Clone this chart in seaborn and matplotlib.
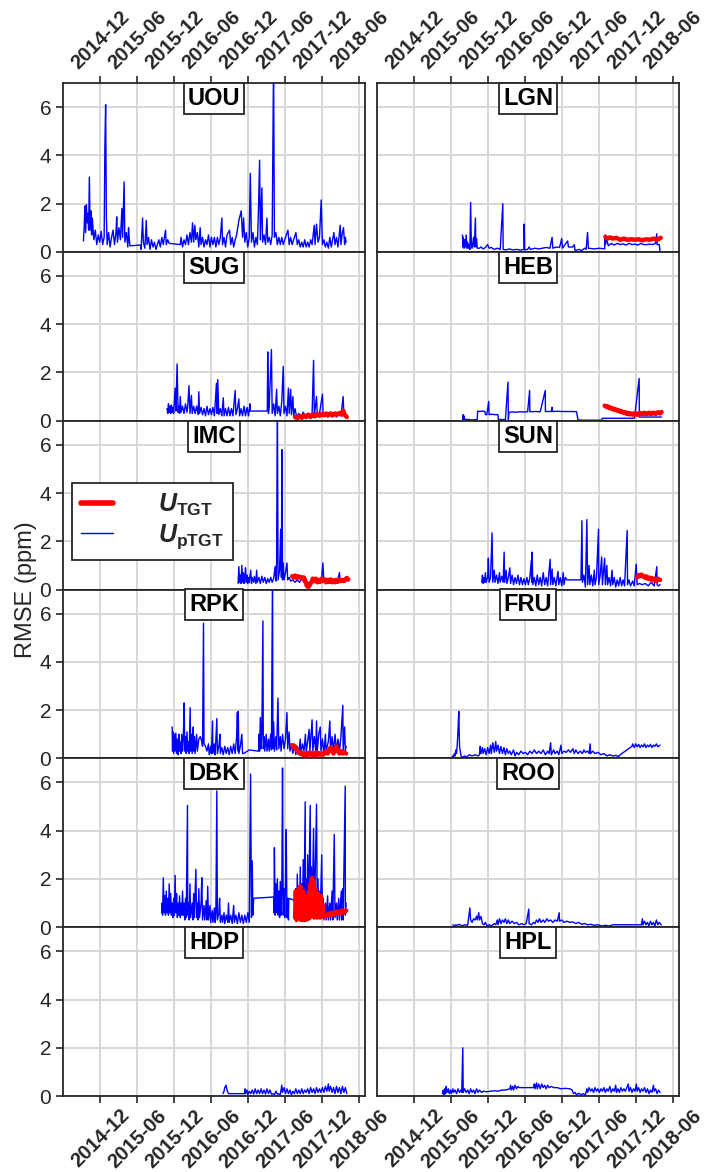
import matplotlib
matplotlib.use("Agg")
import matplotlib.pyplot as plt
from matplotlib.lines import Line2D
import seaborn as sns
import pandas as pd
import numpy as np

# ---------------- data (decimal year, RMSE ppm) ----------------
STATIONS = ["UOU", "LGN", "SUG", "HEB", "IMC", "SUN", "RPK", "FRU", "DBK", "ROO", "HDP", "HPL"]
TICK_LABELS = ["2014-12", "2015-06", "2015-12", "2016-06", "2016-12", "2017-06", "2017-12", "2018-06"]
X_RANGE = ["2014-06-01", "2018-07-01"]
LEGEND_LABELS = [r"$U_{\mathrm{TGT}}$", r"$U_{\mathrm{pTGT}}$"]

UOU_pTGT = [(2014.69,0.45),(2014.70,1.05),(2014.71,1.9),(2014.72,0.8),(2014.73,1.95),(2014.74,1.2),(2014.75,1.6),(2014.76,0.9),
 (2014.77,3.1),(2014.78,0.9),(2014.79,1.7),(2014.80,0.7),(2014.81,1.4),(2014.83,0.5),(2014.85,0.9),(2014.87,0.3),(2014.89,0.7),
 (2014.91,0.4),(2014.93,0.85),(2014.95,0.3),(2014.97,0.6),(2014.98,4.4),(2014.99,6.1),(2015.00,1.5),(2015.01,0.3),(2015.03,0.8),
 (2015.05,0.2),(2015.07,0.6),(2015.09,0.9),(2015.11,0.3),(2015.13,0.8),(2015.14,1.45),(2015.15,0.4),(2015.17,1.0),(2015.19,0.5),
 (2015.21,1.8),(2015.22,0.6),(2015.24,2.9),(2015.25,0.4),(2015.27,0.8),(2015.29,0.2),(2015.30,1.0),(2015.31,0.5),(2015.32,0.25),
 (2015.46,0.28),(2015.47,0.1),(2015.49,1.4),(2015.50,0.4),(2015.52,0.15),(2015.54,1.3),(2015.55,0.3),(2015.57,0.6),(2015.59,0.1),
 (2015.61,0.5),(2015.63,0.2),(2015.65,0.4),(2015.67,0.1),(2015.69,0.3),(2015.71,0.5),(2015.73,0.2),(2015.75,0.6),(2015.77,0.3),
 (2015.80,0.9),(2015.81,0.3),(2015.83,0.5),(2015.85,0.35),(2016.00,0.3),(2016.01,0.6),(2016.03,0.2),(2016.05,0.5),(2016.07,0.3),
 (2016.09,0.7),(2016.11,0.3),(2016.13,0.8),(2016.15,0.4),(2016.165,1.2),(2016.18,0.4),(2016.196,1.1),(2016.21,0.5),(2016.23,0.8),
 (2016.25,0.2),(2016.268,1.0),(2016.28,0.3),(2016.30,0.6),(2016.32,0.2),(2016.34,0.5),(2016.36,0.3),(2016.38,0.7),(2016.40,0.2),
 (2016.42,0.6),(2016.44,0.3),(2016.46,0.6),(2016.48,0.2),(2016.50,0.6),(2016.52,0.3),(2016.54,0.6),(2016.561,1.4),(2016.57,0.3),
 (2016.59,0.6),(2016.61,0.2),(2016.63,0.7),(2016.665,0.9),(2016.68,0.3),(2016.70,0.6),(2016.72,0.2),(2016.74,0.5),(2016.76,0.7),
 (2016.79,1.3),(2016.822,1.7),(2016.84,0.6),(2016.854,1.4),(2016.87,0.4),(2016.89,0.8),(2016.91,0.2),(2016.93,0.6),(2016.944,3.25),
 (2016.96,0.4),(2016.98,0.8),(2017.00,0.2),(2017.02,0.6),(2017.04,0.3),(2017.056,1.9),(2017.07,3.8),(2017.08,0.5),(2017.101,2.65),
 (2017.11,0.4),(2017.13,0.7),(2017.15,0.3),(2017.169,1.4),(2017.18,0.4),(2017.20,0.6),(2017.22,0.3),(2017.24,0.7),(2017.259,8.0),
 (2017.27,0.6),(2017.29,0.8),(2017.31,0.3),(2017.33,0.6),(2017.35,0.3),(2017.37,0.6),(2017.39,0.3),(2017.41,0.5),(2017.453,0.9),
 (2017.47,0.3),(2017.49,0.6),(2017.51,0.3),(2017.53,0.5),(2017.561,0.8),(2017.58,0.3),(2017.60,0.5),(2017.62,0.2),(2017.64,0.4),
 (2017.66,0.2),(2017.68,0.5),(2017.70,0.2),(2017.72,0.4),(2017.74,0.2),(2017.76,0.5),(2017.78,0.3),(2017.809,1.1),(2017.82,0.3),
 (2017.84,1.15),(2017.86,0.4),(2017.88,0.6),(2017.903,2.15),(2017.92,0.3),(2017.94,0.5),(2017.96,0.2),(2017.98,0.4),(2018.00,0.15),
 (2018.02,0.6),(2018.04,0.2),(2018.075,0.8),(2018.09,0.3),(2018.11,0.6),(2018.13,0.2),(2018.16,1.1),(2018.17,0.3),(2018.19,0.8),
 (2018.205,1.0),(2018.22,0.3),(2018.23,0.6),(2018.24,0.4)]
UOU_TGT = []

LGN_pTGT = [(2015.57,0.7),(2015.575,0.2),(2015.58,0.6),(2015.59,0.15),(2015.60,0.5),(2015.61,0.2),(2015.62,0.7),(2015.63,0.15),
 (2015.64,0.4),(2015.65,0.15),(2015.66,0.3),(2015.67,0.1),(2015.68,2.05),(2015.69,0.3),(2015.70,0.15),(2015.72,0.6),(2015.73,0.2),
 (2015.745,1.4),(2015.75,0.2),(2015.76,0.55),(2015.77,0.15),(2015.80,0.15),(2015.82,0.2),(2015.85,0.12),(2015.88,0.18),(2015.91,0.3),
 (2015.93,0.15),(2015.96,0.18),(2016.00,0.1),(2016.04,0.15),(2016.08,0.1),(2016.115,2.0),(2016.12,0.1),(2016.16,0.08),(2016.20,0.12),
 (2016.25,0.08),(2016.30,0.1),(2016.35,0.07),(2016.40,0.1),(2016.403,1.15),(2016.41,0.08),(2016.45,0.1),(2016.47,0.2),(2016.49,0.1),
 (2016.55,0.15),(2016.60,0.12),(2016.65,0.15),(2016.70,0.18),(2016.75,0.15),(2016.78,0.6),(2016.79,0.15),(2016.84,0.2),(2016.88,0.18),
 (2016.91,0.55),(2016.92,0.15),(2016.99,0.45),(2017.00,0.2),(2017.06,0.2),(2017.08,0.3),(2017.09,0.05),(2017.14,0.1),(2017.18,0.05),
 (2017.22,0.15),(2017.24,0.1),(2017.259,0.8),(2017.27,0.15),(2017.35,0.12),(2017.42,0.15),(2017.49,0.12),(2017.497,0.7),(2017.50,0.3),
 (2017.52,0.5),(2017.54,0.25),(2017.58,0.35),(2017.62,0.28),(2017.66,0.35),(2017.70,0.3),(2017.74,0.33),(2017.78,0.28),(2017.82,0.35),
 (2017.86,0.3),(2017.90,0.32),(2017.94,0.28),(2017.98,0.35),(2018.02,0.3),(2018.06,0.3),(2018.10,0.32),(2018.14,0.3),(2018.18,0.35),
 (2018.195,0.75),(2018.20,0.3),(2018.23,0.3),(2018.24,0.0)]
LGN_TGT = [(2017.50,0.62),(2017.53,0.55),(2017.56,0.6),(2017.60,0.55),(2017.65,0.58),(2017.70,0.5),(2017.75,0.55),(2017.80,0.5),
 (2017.85,0.52),(2017.90,0.5),(2017.95,0.52),(2018.00,0.48),(2018.05,0.52),(2018.10,0.5),(2018.15,0.55),(2018.20,0.5),(2018.25,0.58)]

SUG_pTGT = [(2015.82,0.5),(2015.83,0.3),(2015.84,0.7),(2015.85,0.35),(2015.86,0.6),(2015.87,0.3),(2015.88,0.65),(2015.89,0.35),
 (2015.90,0.55),(2015.91,0.3),(2015.93,1.35),(2015.94,0.4),(2015.957,2.35),(2015.97,0.35),(2015.98,0.6),(2015.99,0.3),(2016.00,1.0),
 (2016.01,0.35),(2016.03,0.6),(2016.05,0.3),(2016.07,0.7),(2016.09,0.35),(2016.10,0.6),(2016.117,1.45),(2016.13,0.3),(2016.15,1.05),
 (2016.16,0.3),(2016.18,0.6),(2016.20,0.3),(2016.22,0.6),(2016.24,0.25),(2016.25,1.2),(2016.26,0.3),(2016.28,0.55),(2016.30,0.25),
 (2016.32,0.5),(2016.34,0.2),(2016.36,0.6),(2016.38,0.25),(2016.40,0.5),(2016.42,0.25),(2016.44,0.55),(2016.46,0.2),(2016.488,1.55),
 (2016.495,0.3),(2016.505,1.7),(2016.52,0.25),(2016.54,0.5),(2016.56,0.2),(2016.58,0.95),(2016.59,0.2),(2016.61,0.5),(2016.63,0.2),
 (2016.65,0.55),(2016.67,0.2),(2016.69,0.5),(2016.71,0.2),(2016.74,1.25),(2016.75,0.25),(2016.77,0.5),(2016.79,0.9),(2016.80,0.2),
 (2016.82,0.5),(2016.84,0.2),(2016.86,0.6),(2016.88,0.2),(2016.90,0.55),(2016.92,0.2),(2016.94,0.7),(2016.945,0.4),(2017.174,0.4),
 (2017.18,2.85),(2017.19,0.3),(2017.20,0.6),(2017.23,2.95),(2017.24,0.3),(2017.26,0.7),(2017.28,0.2),(2017.30,1.3),(2017.31,0.3),
 (2017.33,0.6),(2017.35,0.2),(2017.37,0.8),(2017.39,2.25),(2017.40,0.3),(2017.42,0.6),(2017.44,0.2),(2017.46,1.35),(2017.47,0.3),
 (2017.49,1.3),(2017.50,0.25),(2017.52,1.0),(2017.53,0.2),(2017.55,0.5),(2017.57,0.15),(2017.60,0.3),(2017.63,0.15),(2017.66,0.35),
 (2017.69,0.15),(2017.72,0.3),(2017.75,0.12),(2017.78,0.3),(2017.80,2.5),(2017.81,0.2),(2017.84,1.0),(2017.85,0.2),(2017.88,0.3),
 (2017.92,1.1),(2017.93,0.2),(2017.96,0.3),(2017.99,0.15),(2018.02,0.3),(2018.05,0.15),(2018.08,0.3),(2018.11,0.15),(2018.14,0.3),
 (2018.17,0.2),(2018.20,1.0),(2018.21,0.2),(2018.23,0.3),(2018.25,0.15)]
SUG_TGT = [(2017.55,0.15),(2017.58,0.1),(2017.61,0.2),(2017.64,0.12),(2017.67,0.22),(2017.70,0.15),(2017.73,0.25),(2017.76,0.15),
 (2017.79,0.25),(2017.82,0.18),(2017.85,0.28),(2017.88,0.2),(2017.91,0.28),(2017.94,0.22),(2017.97,0.3),(2018.00,0.22),(2018.03,0.3),
 (2018.06,0.22),(2018.09,0.3),(2018.12,0.25),(2018.15,0.32),(2018.18,0.25),(2018.20,0.42),(2018.22,0.25),(2018.25,0.15)]

HEB_pTGT = [(2015.57,0.05),(2015.58,0.25),(2015.585,0.05),(2015.59,0.2),(2015.60,0.05),(2015.65,0.05),(2015.70,0.03),(2015.77,0.05),
 (2015.775,0.4),(2015.80,0.38),(2015.84,0.4),(2015.875,0.38),(2015.88,0.25),(2015.90,0.25),(2015.925,0.8),(2015.93,0.25),(2015.97,0.27),
 (2016.00,0.25),(2016.05,0.25),(2016.055,0.05),(2016.10,0.05),(2016.15,0.04),(2016.185,1.6),(2016.19,0.05),(2016.20,0.35),(2016.25,0.36),
 (2016.30,0.35),(2016.35,0.37),(2016.40,0.36),(2016.45,0.37),(2016.477,1.25),(2016.48,0.37),(2016.55,0.38),(2016.62,0.37),(2016.688,1.25),
 (2016.69,0.38),(2016.77,0.38),(2016.78,0.55),(2016.785,0.38),(2016.85,0.39),(2016.92,0.38),(2017.00,0.38),(2017.06,0.38),(2017.11,0.37),
 (2017.12,0.2),(2017.13,0.03),(2017.20,0.02),(2017.30,0.02),(2017.40,0.02),(2017.45,0.02),(2017.46,0.1),(2017.55,0.1),(2017.65,0.1),
 (2017.75,0.1),(2017.85,0.1),(2017.89,0.1),(2017.895,0.15),(2017.957,1.75),(2017.96,0.15),(2018.05,0.15),(2018.15,0.15),(2018.26,0.15)]
HEB_TGT = [(2017.49,0.62),(2017.51,0.58),(2017.53,0.6),(2017.55,0.52),(2017.57,0.55),(2017.59,0.48),(2017.61,0.5),(2017.63,0.44),
 (2017.65,0.46),(2017.67,0.4),(2017.69,0.42),(2017.71,0.36),(2017.73,0.38),(2017.75,0.32),(2017.77,0.35),(2017.79,0.28),(2017.81,0.32),
 (2017.83,0.26),(2017.85,0.3),(2017.87,0.25),(2017.89,0.3),(2017.91,0.25),(2017.93,0.3),(2017.95,0.24),(2017.97,0.32),(2018.00,0.26),
 (2018.03,0.33),(2018.06,0.27),(2018.09,0.33),(2018.12,0.27),(2018.15,0.33),(2018.18,0.28),(2018.21,0.35),(2018.24,0.3),(2018.26,0.36)]

IMC_pTGT = [(2016.78,0.25),(2016.79,0.95),(2016.80,0.3),(2016.81,0.6),(2016.82,0.25),(2016.83,1.0),(2016.84,0.3),(2016.85,0.7),
 (2016.86,0.25),(2016.87,0.55),(2016.88,0.9),(2016.89,0.3),(2016.90,0.6),(2016.91,0.25),(2016.92,0.5),(2016.93,0.3),(2016.95,0.8),
 (2016.96,0.25),(2016.97,0.5),(2016.99,0.3),(2017.00,0.55),(2017.02,0.25),(2017.03,0.8),(2017.04,0.3),(2017.06,0.5),(2017.08,0.25),
 (2017.10,0.55),(2017.12,0.3),(2017.14,0.5),(2017.16,0.25),(2017.18,0.45),(2017.20,0.3),(2017.22,0.5),(2017.24,0.3),(2017.26,0.45),
 (2017.28,0.95),(2017.29,0.35),(2017.30,1.1),(2017.31,8.0),(2017.32,0.4),(2017.34,0.8),(2017.355,2.5),(2017.365,0.5),(2017.372,5.8),
 (2017.38,0.4),(2017.39,1.1),(2017.40,0.4),(2017.42,0.7),(2017.44,1.1),(2017.45,0.4),(2017.47,0.5),(2017.49,0.35),(2017.52,0.4),
 (2017.55,0.3),(2017.58,0.4),(2017.61,0.3),(2017.64,0.45),(2017.67,0.3),(2017.70,0.2),(2017.73,0.3),(2017.76,0.25),(2017.79,0.4),
 (2017.82,0.3),(2017.85,0.4),(2017.88,0.3),(2017.91,0.5),(2017.926,1.1),(2017.94,0.3),(2017.97,0.4),(2018.00,0.25),(2018.03,0.4),
 (2018.06,0.3),(2018.09,0.45),(2018.12,0.3),(2018.15,0.7),(2018.16,0.3),(2018.19,0.4),(2018.22,0.3),(2018.25,0.4),(2018.27,0.35)]
IMC_TGT = [(2017.51,0.55),(2017.53,0.5),(2017.55,0.58),(2017.57,0.48),(2017.59,0.55),(2017.61,0.5),(2017.63,0.52),(2017.65,0.45),
 (2017.67,0.5),(2017.69,0.35),(2017.71,0.15),(2017.73,0.1),(2017.75,0.2),(2017.77,0.3),(2017.79,0.45),(2017.81,0.35),(2017.83,0.45),
 (2017.85,0.3),(2017.87,0.4),(2017.89,0.32),(2017.91,0.45),(2017.93,0.35),(2017.95,0.42),(2017.97,0.3),(2017.99,0.4),(2018.01,0.32),
 (2018.03,0.42),(2018.05,0.3),(2018.07,0.38),(2018.09,0.3),(2018.11,0.4),(2018.13,0.32),(2018.15,0.42),(2018.17,0.35),(2018.19,0.4),
 (2018.21,0.35),(2018.23,0.42),(2018.25,0.48),(2018.27,0.42)]

SUN_pTGT = [(2015.83,0.3),(2015.84,0.6),(2015.85,0.25),(2015.86,0.5),(2015.87,0.3),(2015.88,0.7),(2015.89,0.3),(2015.91,0.5),
 (2015.92,1.3),(2015.93,0.3),(2015.95,0.5),(2015.97,2.35),(2015.98,0.3),(2016.00,0.8),(2016.01,0.3),(2016.03,0.6),(2016.05,0.25),
 (2016.07,0.7),(2016.08,0.3),(2016.10,0.55),(2016.12,0.3),(2016.133,1.55),(2016.14,0.3),(2016.16,0.8),(2016.17,0.25),(2016.19,0.5),
 (2016.21,0.9),(2016.22,0.25),(2016.24,0.6),(2016.26,0.2),(2016.28,0.5),(2016.30,0.25),(2016.32,0.6),(2016.34,0.2),(2016.36,0.5),
 (2016.38,0.2),(2016.40,0.45),(2016.42,0.2),(2016.44,0.5),(2016.46,0.2),(2016.48,0.5),(2016.50,1.2),(2016.505,0.3),(2016.511,1.55),
 (2016.52,0.2),(2016.54,0.5),(2016.56,0.15),(2016.58,0.6),(2016.60,0.2),(2016.62,0.5),(2016.64,0.15),(2016.66,0.7),(2016.68,0.2),
 (2016.70,0.5),(2016.72,0.15),(2016.754,1.25),(2016.76,0.2),(2016.78,0.85),(2016.79,0.2),(2016.81,0.5),(2016.83,0.15),(2016.86,0.75),
 (2016.87,0.2),(2016.89,0.5),(2016.91,0.15),(2016.93,0.7),(2016.94,0.2),(2016.96,0.5),(2016.98,0.4),(2017.17,0.4),(2017.183,2.85),
 (2017.19,0.3),(2017.21,0.6),(2017.23,0.1),(2017.25,2.9),(2017.26,0.2),(2017.28,1.0),(2017.29,0.2),(2017.31,0.6),(2017.33,0.15),
 (2017.35,0.8),(2017.36,0.2),(2017.38,0.5),(2017.407,2.5),(2017.41,0.2),(2017.43,0.6),(2017.45,1.35),(2017.46,0.2),(2017.49,1.3),
 (2017.50,0.2),(2017.52,1.0),(2017.53,0.2),(2017.55,0.5),(2017.57,0.15),(2017.59,0.8),(2017.60,0.2),(2017.62,0.5),(2017.64,0.1),
 (2017.66,0.4),(2017.68,0.15),(2017.70,0.5),(2017.72,0.15),(2017.74,0.4),(2017.76,0.15),(2017.795,2.45),(2017.80,0.2),(2017.82,0.4),
 (2017.84,0.15),(2017.87,0.35),(2017.89,0.15),(2017.917,1.05),(2017.93,0.2),(2017.96,0.25),(2018.00,0.2),(2018.04,0.25),(2018.08,0.15),
 (2018.12,0.3),(2018.16,0.15),(2018.196,0.95),(2018.20,0.2),(2018.22,0.15),(2018.24,0.2)]
SUN_TGT = [(2017.93,0.5),(2017.95,0.6),(2017.97,0.55),(2017.99,0.62),(2018.01,0.55),(2018.03,0.5),(2018.05,0.55),(2018.07,0.45),
 (2018.09,0.5),(2018.11,0.42),(2018.13,0.48),(2018.15,0.38),(2018.17,0.45),(2018.19,0.35),(2018.21,0.45),(2018.24,0.4)]

RPK_pTGT = [(2015.89,1.3),(2015.895,0.3),(2015.90,1.1),(2015.91,0.2),(2015.92,1.0),(2015.93,0.3),(2015.94,1.05),(2015.95,0.2),
 (2015.96,0.8),(2015.97,0.15),(2015.98,1.0),(2015.99,0.3),(2016.00,0.7),(2016.01,0.2),(2016.02,1.0),(2016.03,0.3),(2016.04,0.8),
 (2016.052,2.3),(2016.06,0.3),(2016.07,0.9),(2016.08,0.2),(2016.09,1.1),(2016.10,0.3),(2016.11,0.7),(2016.12,0.2),(2016.133,2.1),
 (2016.14,0.3),(2016.15,1.0),(2016.16,0.2),(2016.175,1.3),(2016.18,0.3),(2016.19,0.9),(2016.20,0.2),(2016.22,1.0),(2016.23,0.3),
 (2016.25,0.8),(2016.27,0.9),(2016.29,0.7),(2016.30,0.5),(2016.313,5.6),(2016.32,0.6),(2016.34,0.5),(2016.36,0.3),(2016.38,0.6),
 (2016.39,0.15),(2016.41,0.5),(2016.42,0.2),(2016.435,1.55),(2016.44,0.2),(2016.46,0.6),(2016.47,0.15),(2016.493,1.65),(2016.50,0.2),
 (2016.52,0.5),(2016.535,1.0),(2016.54,0.2),(2016.56,0.45),(2016.58,0.15),(2016.60,0.5),(2016.62,0.2),(2016.64,0.45),(2016.66,0.15),
 (2016.68,0.5),(2016.70,0.2),(2016.72,0.6),(2016.74,0.2),(2016.76,0.9),(2016.77,1.9),(2016.78,0.3),(2016.782,1.95),(2016.79,0.2),
 (2016.81,0.5),(2016.83,1.0),(2016.84,0.2),(2016.854,0.2),(2016.93,0.35),(2017.056,0.3),(2017.06,1.0),(2017.07,0.3),(2017.08,1.7),
 (2017.09,0.4),(2017.10,1.0),(2017.115,5.7),(2017.12,0.4),(2017.13,0.9),(2017.14,0.3),(2017.16,1.0),(2017.17,0.3),(2017.19,0.8),
 (2017.20,0.3),(2017.22,1.0),(2017.23,0.35),(2017.245,8.0),(2017.25,0.4),(2017.26,1.5),(2017.27,0.3),(2017.29,0.9),(2017.30,0.35),
 (2017.318,2.5),(2017.33,0.4),(2017.35,0.9),(2017.36,0.3),(2017.38,1.0),(2017.40,0.4),(2017.42,0.8),(2017.44,1.9),(2017.45,0.4),
 (2017.47,1.1),(2017.48,0.3),(2017.50,0.6),(2017.52,0.2),(2017.54,0.6),(2017.56,0.15),(2017.58,0.5),(2017.60,0.2),(2017.62,0.8),
 (2017.63,0.2),(2017.65,0.6),(2017.67,0.3),(2017.69,1.0),(2017.70,0.25),(2017.72,0.7),(2017.74,1.2),(2017.75,0.3),(2017.78,1.6),
 (2017.79,0.3),(2017.81,0.9),(2017.83,0.3),(2017.84,1.55),(2017.85,0.3),(2017.87,1.0),(2017.89,1.3),(2017.90,0.3),(2017.92,0.8),
 (2017.94,0.2),(2017.96,1.0),(2017.97,0.3),(2018.00,0.7),(2018.02,1.55),(2018.03,0.3),(2018.05,0.9),(2018.07,0.3),(2018.09,1.0),
 (2018.11,0.3),(2018.13,0.8),(2018.15,0.3),(2018.17,0.9),(2018.196,2.2),(2018.20,0.3),(2018.22,1.3),(2018.23,0.3),(2018.24,0.5)]
RPK_TGT = [(2017.51,0.55),(2017.53,0.45),(2017.55,0.5),(2017.57,0.35),(2017.59,0.3),(2017.61,0.2),(2017.63,0.25),(2017.65,0.15),
 (2017.67,0.2),(2017.69,0.12),(2017.71,0.22),(2017.73,0.15),(2017.75,0.25),(2017.77,0.15),(2017.79,0.2),(2017.81,0.12),(2017.83,0.25),
 (2017.85,0.15),(2017.87,0.22),(2017.89,0.15),(2017.91,0.2),(2017.93,0.15),(2017.95,0.25),(2017.97,0.3),(2017.99,0.2),(2018.01,0.35),
 (2018.03,0.45),(2018.05,0.3),(2018.07,0.2),(2018.09,0.4),(2018.11,0.5),(2018.13,0.3),(2018.15,0.2),(2018.17,0.3),(2018.19,0.2),
 (2018.21,0.25),(2018.24,0.2)]

FRU_pTGT = [(2015.43,0.05),(2015.44,0.1),(2015.45,0.05),(2015.46,0.2),(2015.47,0.1),(2015.48,0.35),(2015.49,0.2),(2015.50,0.6),
 (2015.51,1.2),(2015.52,1.95),(2015.53,0.5),(2015.54,0.3),(2015.55,0.1),(2015.57,0.05),(2015.60,0.1),(2015.63,0.05),(2015.66,0.15),
 (2015.70,0.1),(2015.74,0.15),(2015.78,0.1),(2015.80,0.15),(2015.81,0.5),(2015.82,0.2),(2015.84,0.45),(2015.85,0.2),(2015.87,0.4),
 (2015.89,0.15),(2015.91,0.45),(2015.93,0.2),(2015.95,0.55),(2015.96,0.2),(2015.98,0.65),(2016.00,0.25),(2016.02,0.7),(2016.03,0.3),
 (2016.05,0.55),(2016.07,0.2),(2016.09,0.5),(2016.11,0.2),(2016.13,0.45),(2016.15,0.15),(2016.17,0.4),(2016.19,0.2),(2016.21,0.3),
 (2016.23,0.15),(2016.26,0.35),(2016.28,0.1),(2016.30,0.25),(2016.33,0.15),(2016.36,0.3),(2016.39,0.2),(2016.42,0.25),(2016.45,0.15),
 (2016.48,0.3),(2016.51,0.2),(2016.54,0.35),(2016.57,0.2),(2016.60,0.3),(2016.63,0.2),(2016.66,0.35),(2016.69,0.15),(2016.72,0.3),
 (2016.74,0.2),(2016.76,0.65),(2016.77,0.15),(2016.80,0.35),(2016.82,0.2),(2016.85,0.3),(2016.87,0.15),(2016.90,0.55),(2016.91,0.2),
 (2016.94,0.3),(2016.97,0.25),(2017.00,0.35),(2017.03,0.25),(2017.06,0.4),(2017.08,0.2),(2017.10,0.35),(2017.13,0.2),(2017.16,0.3),
 (2017.19,0.2),(2017.21,0.35),(2017.23,0.25),(2017.26,0.3),(2017.28,0.2),(2017.295,0.6),(2017.30,0.2),(2017.33,0.3),(2017.36,0.2),
 (2017.40,0.25),(2017.44,0.15),(2017.48,0.2),(2017.52,0.1),(2017.56,0.15),(2017.60,0.1),(2017.64,0.12),(2017.68,0.08),(2017.70,0.15),
 (2017.86,0.5),(2017.87,0.6),(2017.89,0.45),(2017.91,0.6),(2017.93,0.48),(2017.95,0.58),(2017.97,0.45),(2017.99,0.55),(2018.01,0.48),
 (2018.03,0.6),(2018.05,0.45),(2018.07,0.55),(2018.09,0.48),(2018.11,0.58),(2018.13,0.45),(2018.15,0.55),(2018.17,0.5),(2018.19,0.6),
 (2018.21,0.48),(2018.24,0.55)]
FRU_TGT = []

DBK_pTGT = [(2015.75,0.6),(2015.755,1.0),(2015.76,0.5),(2015.77,2.05),(2015.78,0.6),(2015.79,1.3),(2015.80,0.5),(2015.81,1.5),
 (2015.82,0.6),(2015.83,1.2),(2015.84,0.5),(2015.85,1.8),(2015.86,0.6),(2015.87,1.4),(2015.88,0.5),(2015.89,1.0),(2015.90,0.4),
 (2015.91,1.2),(2015.92,0.5),(2015.93,2.15),(2015.94,0.6),(2015.95,1.4),(2015.96,0.4),(2015.97,1.0),(2015.98,0.5),(2015.99,1.3),
 (2016.00,0.4),(2016.01,1.0),(2016.02,0.5),(2016.03,1.5),(2016.04,0.5),(2016.05,1.0),(2016.06,0.3),(2016.07,1.2),(2016.08,0.4),
 (2016.097,5.05),(2016.10,0.5),(2016.11,1.0),(2016.12,0.3),(2016.13,1.8),(2016.14,0.4),(2016.16,1.0),(2016.17,0.3),(2016.18,1.4),
 (2016.19,0.4),(2016.21,2.4),(2016.22,0.4),(2016.23,1.0),(2016.24,0.3),(2016.25,1.6),(2016.26,0.4),(2016.28,1.0),(2016.29,2.05),
 (2016.30,0.3),(2016.32,0.9),(2016.33,0.3),(2016.35,1.1),(2016.36,0.3),(2016.37,1.7),(2016.38,0.3),(2016.40,0.9),(2016.41,0.2),
 (2016.43,0.7),(2016.44,0.2),(2016.46,0.8),(2016.47,0.2),(2016.48,0.6),(2016.493,5.65),(2016.50,0.3),(2016.52,0.6),(2016.53,1.2),
 (2016.54,0.2),(2016.56,0.5),(2016.57,0.2),(2016.59,0.6),(2016.60,0.15),(2016.62,0.5),(2016.64,0.2),(2016.65,1.0),(2016.66,0.2),
 (2016.68,0.5),(2016.70,0.15),(2016.72,0.9),(2016.73,0.2),(2016.75,0.5),(2016.77,0.15),(2016.79,0.6),(2016.81,0.2),(2016.83,0.5),
 (2016.85,0.15),(2016.87,0.5),(2016.89,0.2),(2016.91,0.6),(2016.93,0.2),(2016.948,6.35),(2016.96,0.4),(2016.97,2.75),(2016.98,0.5),
 (2016.99,1.2),(2017.26,1.25),(2017.265,0.6),(2017.27,3.3),(2017.28,0.5),(2017.29,1.8),(2017.30,0.6),(2017.31,2.0),(2017.32,0.5),
 (2017.33,1.5),(2017.34,0.4),(2017.35,1.9),(2017.36,0.5),(2017.37,1.4),(2017.38,6.6),(2017.39,0.5),(2017.40,1.6),(2017.41,0.4),
 (2017.42,1.8),(2017.43,4.05),(2017.44,0.4),(2017.45,1.2),(2017.46,0.3),(2017.465,1.2),(2017.55,1.1),(2017.555,0.5),(2017.56,1.6),
 (2017.57,0.4),(2017.58,2.2),(2017.59,0.5),(2017.60,1.5),(2017.61,0.3),(2017.62,2.5),(2017.63,0.5),(2017.64,1.8),(2017.65,0.4),
 (2017.66,2.8),(2017.67,0.6),(2017.687,5.2),(2017.69,0.5),(2017.70,2.0),(2017.71,0.4),(2017.72,3.0),(2017.73,0.5),(2017.755,5.05),
 (2017.76,0.5),(2017.77,2.5),(2017.78,0.4),(2017.80,4.1),(2017.81,0.5),(2017.82,1.8),(2017.84,5.1),(2017.85,0.5),(2017.86,2.0),
 (2017.87,0.4),(2017.88,1.5),(2017.89,0.4),(2017.91,3.0),(2017.92,0.4),(2017.93,1.2),(2017.94,0.3),(2017.96,1.0),(2017.97,0.3),
 (2017.99,1.3),(2018.00,0.3),(2018.02,1.0),(2018.03,0.3),(2018.05,1.5),(2018.06,0.3),(2018.08,3.85),(2018.09,0.4),(2018.11,1.0),
 (2018.12,0.3),(2018.14,1.2),(2018.15,0.3),(2018.175,1.5),(2018.18,0.3),(2018.195,1.6),(2018.20,0.3),(2018.228,5.85),(2018.23,0.5),
 (2018.24,1.0)]
DBK_TGT = [(2017.55,0.4),(2017.56,1.5),(2017.57,0.3),(2017.58,1.4),(2017.59,0.5),(2017.60,1.6),(2017.61,0.4),(2017.62,1.7),
 (2017.63,0.3),(2017.64,1.2),(2017.65,0.4),(2017.66,1.5),(2017.67,0.3),(2017.68,0.8),(2017.69,0.3),(2017.70,1.3),(2017.71,0.4),
 (2017.72,1.0),(2017.73,0.35),(2017.74,1.5),(2017.75,0.4),(2017.76,1.8),(2017.77,0.5),(2017.78,2.05),(2017.79,0.6),(2017.80,1.9),
 (2017.81,0.4),(2017.82,1.6),(2017.83,0.45),(2017.84,1.2),(2017.85,0.4),(2017.86,1.4),(2017.87,0.45),(2017.88,1.0),(2017.89,0.4),
 (2017.90,1.3),(2017.91,0.45),(2017.92,0.9),(2017.93,0.45),(2017.95,0.5),(2017.97,0.45),(2017.99,0.55),(2018.01,0.5),(2018.03,0.6),
 (2018.05,0.5),(2018.07,0.6),(2018.09,0.55),(2018.11,0.65),(2018.13,0.55),(2018.15,0.65),(2018.17,0.6),(2018.19,0.7),(2018.21,0.6),
 (2018.24,0.7)]

ROO_pTGT = [(2015.44,0.1),(2015.46,0.05),(2015.48,0.1),(2015.50,0.08),(2015.53,0.12),(2015.56,0.05),(2015.60,0.1),(2015.64,0.08),
 (2015.67,0.8),(2015.68,0.3),(2015.70,0.2),(2015.72,0.35),(2015.74,0.3),(2015.76,0.45),(2015.77,0.3),(2015.79,0.6),(2015.80,0.3),
 (2015.82,0.45),(2015.84,0.15),(2015.86,0.1),(2015.88,0.2),(2015.90,0.05),(2015.93,0.1),(2015.96,0.05),(2016.00,0.15),(2016.02,0.1),
 (2016.04,0.3),(2016.05,0.1),(2016.07,0.35),(2016.09,0.15),(2016.11,0.3),(2016.13,0.2),(2016.15,0.35),(2016.17,0.15),(2016.19,0.3),
 (2016.21,0.15),(2016.24,0.25),(2016.27,0.15),(2016.30,0.2),(2016.33,0.1),(2016.37,0.15),(2016.40,0.1),(2016.43,0.15),(2016.466,0.75),
 (2016.47,0.15),(2016.50,0.1),(2016.53,0.2),(2016.55,0.15),(2016.57,0.3),(2016.59,0.2),(2016.61,0.35),(2016.63,0.2),(2016.66,0.3),
 (2016.68,0.2),(2016.71,0.35),(2016.73,0.25),(2016.76,0.3),(2016.79,0.2),(2016.82,0.3),(2016.85,0.25),(2016.876,0.6),(2016.88,0.25),
 (2016.91,0.3),(2016.94,0.2),(2016.98,0.25),(2017.02,0.2),(2017.06,0.22),(2017.10,0.15),(2017.14,0.2),(2017.18,0.12),(2017.22,0.15),
 (2017.26,0.1),(2017.30,0.12),(2017.35,0.08),(2017.40,0.1),(2017.45,0.05),(2017.50,0.08),(2017.55,0.05),(2017.60,0.1),(2017.99,0.1),
 (2018.00,0.35),(2018.01,0.1),(2018.03,0.25),(2018.05,0.1),(2018.07,0.2),(2018.09,0.05),(2018.11,0.25),(2018.13,0.1),(2018.15,0.2),
 (2018.17,0.05),(2018.19,0.3),(2018.21,0.1),(2018.23,0.2),(2018.255,0.1)]
ROO_TGT = []

HDP_pTGT = [(2016.575,0.1),(2016.59,0.2),(2016.60,0.35),(2016.616,0.45),(2016.63,0.25),(2016.65,0.1),(2016.67,0.1),(2016.87,0.1),
 (2016.875,0.3),(2016.88,0.1),(2016.90,0.25),(2016.91,0.05),(2016.93,0.2),(2016.95,0.1),(2016.97,0.25),(2016.99,0.08),(2017.01,0.3),
 (2017.03,0.1),(2017.05,0.25),(2017.07,0.1),(2017.09,0.3),(2017.11,0.1),(2017.13,0.25),(2017.15,0.08),(2017.17,0.3),(2017.19,0.1),
 (2017.21,0.25),(2017.23,0.08),(2017.25,0.1),(2017.27,0.05),(2017.29,0.2),(2017.31,0.08),(2017.33,0.1),(2017.35,0.05),(2017.37,0.45),
 (2017.38,0.15),(2017.40,0.35),(2017.42,0.1),(2017.44,0.3),(2017.46,0.1),(2017.48,0.25),(2017.50,0.05),(2017.52,0.2),(2017.54,0.1),
 (2017.56,0.3),(2017.58,0.1),(2017.60,0.25),(2017.62,0.1),(2017.64,0.3),(2017.66,0.1),(2017.68,0.25),(2017.70,0.15),(2017.72,0.3),
 (2017.74,0.1),(2017.76,0.35),(2017.78,0.15),(2017.80,0.3),(2017.82,0.1),(2017.84,0.35),(2017.86,0.15),(2017.88,0.3),(2017.90,0.15),
 (2017.92,0.35),(2017.94,0.15),(2017.96,0.4),(2017.98,0.2),(2018.00,0.5),(2018.01,0.2),(2018.03,0.4),(2018.05,0.15),(2018.07,0.35),
 (2018.09,0.1),(2018.11,0.4),(2018.13,0.15),(2018.15,0.35),(2018.17,0.1),(2018.19,0.4),(2018.21,0.15),(2018.23,0.35),(2018.25,0.1)]
HDP_TGT = []

HPL_pTGT = [(2015.30,0.1),(2015.31,0.25),(2015.32,0.05),(2015.33,0.3),(2015.34,0.1),(2015.35,0.4),(2015.36,0.15),(2015.38,0.3),
 (2015.39,0.1),(2015.41,0.25),(2015.42,0.1),(2015.44,0.3),(2015.45,0.15),(2015.47,0.25),(2015.49,0.1),(2015.51,0.3),(2015.53,0.15),
 (2015.55,0.25),(2015.56,0.15),(2015.574,2.0),(2015.58,0.15),(2015.60,0.3),(2015.62,0.15),(2015.64,0.25),(2015.66,0.1),(2015.68,0.3),
 (2015.70,0.15),(2015.72,0.25),(2015.74,0.1),(2015.76,0.3),(2015.78,0.15),(2015.80,0.25),(2015.83,0.15),(2015.85,0.2),(2015.90,0.18),
 (2015.95,0.2),(2016.00,0.22),(2016.05,0.2),(2016.10,0.25),(2016.15,0.25),(2016.21,0.3),(2016.22,0.45),(2016.23,0.25),(2016.25,0.4),
 (2016.26,0.25),(2016.28,0.45),(2016.30,0.3),(2016.32,0.4),(2016.33,0.35),(2016.40,0.35),(2016.47,0.35),(2016.53,0.35),(2016.54,0.5),
 (2016.55,0.3),(2016.57,0.55),(2016.58,0.3),(2016.60,0.5),(2016.62,0.3),(2016.64,0.5),(2016.66,0.35),(2016.68,0.45),(2016.70,0.3),
 (2016.72,0.45),(2016.74,0.35),(2016.77,0.4),(2016.80,0.35),(2016.85,0.35),(2016.90,0.3),(2016.95,0.32),(2017.02,0.3),(2017.05,0.25),
 (2017.07,0.1),(2017.09,0.15),(2017.11,0.05),(2017.14,0.12),(2017.17,0.05),(2017.20,0.1),(2017.23,0.05),(2017.25,0.3),(2017.26,0.15),
 (2017.28,0.35),(2017.30,0.2),(2017.32,0.3),(2017.34,0.15),(2017.36,0.35),(2017.38,0.2),(2017.40,0.3),(2017.42,0.15),(2017.44,0.3),
 (2017.46,0.2),(2017.48,0.35),(2017.50,0.15),(2017.52,0.3),(2017.54,0.2),(2017.56,0.4),(2017.58,0.15),(2017.60,0.3),(2017.62,0.2),
 (2017.64,0.45),(2017.65,0.15),(2017.67,0.3),(2017.69,0.15),(2017.71,0.35),(2017.73,0.2),(2017.75,0.3),(2017.77,0.2),(2017.79,0.35),
 (2017.81,0.5),(2017.82,0.2),(2017.84,0.35),(2017.86,0.15),(2017.88,0.3),(2017.90,0.2),(2017.92,0.5),(2017.93,0.2),(2017.95,0.35),
 (2017.97,0.15),(2017.99,0.3),(2018.01,0.2),(2018.03,0.35),(2018.05,0.15),(2018.07,0.3),(2018.09,0.1),(2018.11,0.25),(2018.13,0.15),
 (2018.15,0.45),(2018.16,0.2),(2018.18,0.3),(2018.20,0.1),(2018.22,0.25),(2018.24,0.15)]
HPL_TGT = []

SERIES = {
    "UOU": (UOU_pTGT, UOU_TGT), "LGN": (LGN_pTGT, LGN_TGT),
    "SUG": (SUG_pTGT, SUG_TGT), "HEB": (HEB_pTGT, HEB_TGT),
    "IMC": (IMC_pTGT, IMC_TGT), "SUN": (SUN_pTGT, SUN_TGT),
    "RPK": (RPK_pTGT, RPK_TGT), "FRU": (FRU_pTGT, FRU_TGT),
    "DBK": (DBK_pTGT, DBK_TGT), "ROO": (ROO_pTGT, ROO_TGT),
    "HDP": (HDP_pTGT, HDP_TGT), "HPL": (HPL_pTGT, HPL_TGT),
}

# ---------------- style ----------------
sns.set_theme(style="white")
plt.rcParams["font.family"] = ["Liberation Sans", "DejaVu Sans"]
plt.rcParams["mathtext.fontset"] = "custom"
plt.rcParams["mathtext.it"] = "Liberation Sans:italic:bold"
plt.rcParams["mathtext.rm"] = "Liberation Sans:bold"
plt.rcParams["mathtext.bf"] = "Liberation Sans:bold"

BLUE = "#0000ff"
RED = "#ff0000"
EDGE = "#262626"


def to_dt(years):
    out = []
    for y in years:
        yr = int(np.floor(y))
        start = pd.Timestamp(year=yr, month=1, day=1)
        end = pd.Timestamp(year=yr + 1, month=1, day=1)
        out.append(start + (end - start) * (y - yr))
    return pd.to_datetime(out)


def frame(pairs):
    t = [p[0] for p in pairs]
    v = [p[1] for p in pairs]
    return pd.DataFrame({"date": to_dt(t), "rmse": v})


fig, axes = plt.subplots(6, 2, figsize=(7.05, 11.72), dpi=100)
fig.subplots_adjust(left=0.0894, right=0.9631, top=0.9292, bottom=0.0648, wspace=0.0397, hspace=0)

tick_dates = pd.to_datetime([lab + "-01" for lab in TICK_LABELS])
xlim = pd.to_datetime(X_RANGE)

for i, name in enumerate(STATIONS):
    r, c = divmod(i, 2)
    ax = axes[r, c]
    blue, red = SERIES[name]
    df_b = frame(blue)
    sns.lineplot(data=df_b, x="date", y="rmse", ax=ax, color=BLUE, lw=1.0,
                 estimator=None, sort=False, legend=False, zorder=3)
    if red:
        df_r = frame(red)
        sns.lineplot(data=df_r, x="date", y="rmse", ax=ax, color=RED, lw=3.2,
                     estimator=None, sort=False, legend=False, zorder=4)
    ax.set_xlim(xlim[0], xlim[1])
    ax.set_ylim(0, 7)
    ax.set_yticks([0, 2, 4, 6])
    ax.set_xticks(tick_dates)
    ax.set_xlabel("")
    ax.set_ylabel("")
    ax.grid(True, color="#d4d4d4", lw=1.3)
    ax.set_axisbelow(True)
    for sp in ax.spines.values():
        sp.set_color(EDGE)
        sp.set_linewidth(1.3)
    ax.tick_params(axis="both", direction="out", length=5, width=1.2, color=EDGE)

    # x ticks
    if r == 0:
        ax.tick_params(axis="x", top=True, bottom=False, labeltop=True, labelbottom=False, pad=2)
        ax.set_xticklabels(TICK_LABELS, rotation=45, fontsize=14.5, fontweight="bold")
    elif r == 5:
        ax.tick_params(axis="x", top=False, bottom=True, labeltop=False, labelbottom=True, pad=2)
        ax.set_xticklabels(TICK_LABELS, rotation=45, fontsize=14.5, fontweight="bold")
    else:
        ax.tick_params(axis="x", top=False, bottom=False, labeltop=False, labelbottom=False)

    # y ticks
    if c == 0:
        ax.tick_params(axis="y", left=True, labelleft=True, labelsize=15)
    else:
        ax.tick_params(axis="y", left=False, labelleft=False)

    ax.annotate(name, xy=(0.5, 1.0), xycoords="axes fraction", xytext=(0, -2.8),
                textcoords="offset points", ha="center", va="top",
                fontsize=17, fontweight="bold", color="black", zorder=6,
                bbox=dict(boxstyle="square,pad=0.17", fc="white", ec=EDGE, lw=1.3))

    if name == "IMC":
        handles = [Line2D([], [], color=RED, lw=4), Line2D([], [], color=BLUE, lw=1)]
        leg = ax.legend(handles, LEGEND_LABELS, loc="upper left", bbox_to_anchor=(0.03, 0.633),
                        borderaxespad=0, frameon=True, fancybox=False, edgecolor=EDGE,
                        framealpha=1, fontsize=18, handlelength=1.3, handletextpad=1.8,
                        labelspacing=0.2, borderpad=0.35)
        leg.get_frame().set_linewidth(1.3)
        leg.set_zorder(7)

fig.text(0.037, 0.4966, "RMSE (ppm)", rotation=90, ha="center", va="center", fontsize=17)

fig.savefig("out.png", dpi=100)
